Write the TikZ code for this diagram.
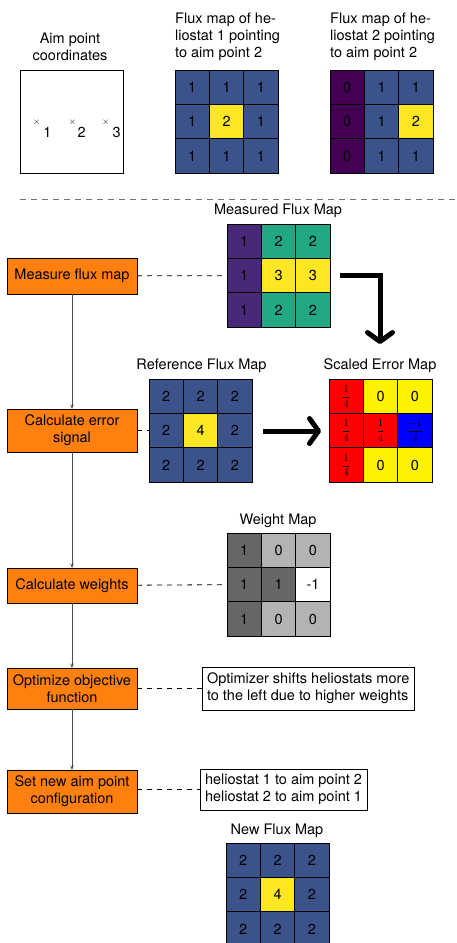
\documentclass[tikz,border=0pt]{standalone}
\usepackage{fontspec}
\setmainfont{TeX Gyre Heros}
\usetikzlibrary{arrows.meta}

% viridis-like cell colours
\definecolor{vblue}{HTML}{3B528B}
\definecolor{vyellow}{HTML}{FDE725}
\definecolor{vpurple}{HTML}{440154}
\definecolor{vviolet}{HTML}{482878}
\definecolor{vteal}{HTML}{22A884}
\definecolor{stepfill}{RGB}{255,128,14}
\definecolor{wdark}{HTML}{666666}
\definecolor{wlight}{HTML}{B3B3B3}

\newcommand{\mainsize}{\fontsize{14.5}{17.2}\selectfont}
\newcommand{\fr}[1]{{\fontsize{10.5}{12}\selectfont$\displaystyle\frac{#1}{4}$}}

% 3x3 flux map: name, left, top, list of colour/value
\newcommand{\hgrid}[4]{%
  \foreach \cc/\cv [count=\k from 0] in {#4} {%
    \pgfmathtruncatemacro\rr{div(\k,3)}%
    \pgfmathtruncatemacro\qq{mod(\k,3)}%
    \node[cell, fill=\cc, anchor=north west] (#1-\rr-\qq)
      at ({#2+\qq*34.4},{#3+\rr*34.4}) {\cv};
  }}

\begin{document}
\begin{tikzpicture}[x=1pt, y=-1pt,
  every node/.style={font=\mainsize},
  cell/.style={draw=black, line width=0.9pt, minimum size=34.4pt,
    inner sep=0pt, outer sep=0pt},
  stepbox/.style={draw=black, fill=stepfill, line width=0.9pt,
    minimum width=130pt, align=center, inner sep=3pt, outer sep=0pt},
  notebox/.style={draw=black, fill=white, line width=0.9pt, align=left,
    inner sep=5pt, outer sep=0pt, anchor=west},
  maptitle/.style={inner sep=0pt},
  flowarrow/.style={draw=black!70, line width=0.8pt,
    -{Stealth[length=4.5pt,width=3.5pt]}},
  dashline/.style={draw=black, line width=0.8pt, dash pattern=on 5pt off 5pt},
  sepline/.style={draw=black!55, line width=0.8pt, dash pattern=on 6pt off 5pt},
  bigarrow/.style={draw=black, line width=5pt,
    -{Straight Barb[length=9pt,width=25pt,round]}}]

\useasboundingbox (0,0) rectangle (456,943);

% ---------- top row: aim points and single-heliostat flux maps ----------
\node[maptitle, align=center] (aimtitle) at (70,47) {Aim point\\coordinates};
\node[draw=black, line width=0.9pt, minimum size=103pt, inner sep=0pt,
  outer sep=0pt, anchor=north west] (aimbox) at (20,70) {};
\foreach \n/\xm/\xd in {1/36.8/47.5, 2/72.5/81.7, 3/105.8/116.7} {
  \node[inner sep=0pt, font=\fontsize{9}{10}\selectfont] (mark\n) at (\xm,122) {$\times$};
  \node[inner sep=0pt] (lab\n) at (\xd,132) {\n};
}

\node[maptitle, align=left, anchor=west] (f1title) at (175,37)
  {Flux map of he-\\liostat 1 pointing\\to aim point 2};
\hgrid{fa}{175}{70}{vblue/1, vblue/1, vblue/1,
                    vblue/1, vyellow/2, vblue/1,
                    vblue/1, vblue/1, vblue/1}

\node[maptitle, align=left, anchor=west] (f2title) at (330,37)
  {Flux map of he-\\liostat 2 pointing\\to aim point 2};
\hgrid{fb}{330}{70}{vpurple/0, vblue/1, vblue/1,
                    vpurple/0, vblue/1, vyellow/2,
                    vpurple/0, vblue/1, vblue/1}

\coordinate (sepL) at (20,199);
\coordinate (sepR) at (456,199);
\draw[sepline] (sepL) -- (sepR);

% ---------- process steps ----------
\node[stepbox, minimum height=36pt] (s1) at (72,276) {Measure flux map};
\node[stepbox, minimum height=43pt] (s2) at (72,430.5) {Calculate error\\signal};
\node[stepbox, minimum height=35pt] (s3) at (72,585.5) {Calculate weights};
\node[stepbox, minimum height=41pt] (s4) at (72,688.5) {Optimize objective\\function};
\node[stepbox, minimum height=43pt] (s5) at (72,791.5) {Set new aim point\\configuration};

\draw[flowarrow] (s1) -- (s2);
\draw[flowarrow] (s2) -- (s3);
\draw[flowarrow] (s3) -- (s4);
\draw[flowarrow] (s4) -- (s5);

% ---------- measured flux map ----------
\node[maptitle] (mtitle) at (278,211) {Measured Flux Map};
\hgrid{meas}{227}{224}{vviolet/1, vteal/2, vteal/2,
                       vviolet/1, vyellow/3, vyellow/3,
                       vviolet/1, vteal/2, vteal/2}
\draw[dashline] (s1) -- (meas-1-0);

% ---------- reference and scaled error maps ----------
\node[maptitle] (rtitle) at (201.5,366) {Reference Flux Map};
\hgrid{ref}{149}{379}{vblue/2, vblue/2, vblue/2,
                      vblue/2, vyellow/4, vblue/2,
                      vblue/2, vblue/2, vblue/2}
\draw[dashline] (s2) -- (ref-1-0);

\node[maptitle] (etitle) at (380,366) {Scaled Error Map};
\hgrid{err}{329}{379}{red/\fr{1}, yellow/0, yellow/0,
                      red/\fr{1}, red/\fr{1}, blue/\fr{-1},
                      red/\fr{1}, yellow/0, yellow/0}

\coordinate (a1s) at (340,275.6);
\coordinate (a1e) at (380,344);
\draw[bigarrow] (a1s) -| (a1e);
\coordinate (a2s) at (263,431);
\coordinate (a2e) at (321,431);
\draw[bigarrow] (a2s) -- (a2e);

% ---------- weight map ----------
\node[maptitle] (wtitle) at (278,521) {Weight Map};
\hgrid{wt}{227}{533}{wdark/1, wlight/0, wlight/0,
                     wdark/1, wdark/1, white/-1,
                     wdark/1, wlight/0, wlight/0}
\draw[dashline] (s3) -- (wt-1-0);

% ---------- notes ----------
\node[notebox, minimum height=43pt] (n1) at (202,688.5)
  {Optimizer shifts heliostats more\\to the left due to higher weights};
\draw[dashline] (s4) -- (n1);
\node[notebox, minimum height=39pt] (n2) at (200,789.5)
  {heliostat 1 to aim point 2\\heliostat 2 to aim point 1};
\draw[dashline] (s5.east |- n2.west) -- (n2);

% ---------- new flux map ----------
\node[maptitle] (ntitle) at (277,831) {New Flux Map};
\hgrid{new}{226}{843}{vblue/2, vblue/2, vblue/2,
                      vblue/2, vyellow/4, vblue/2,
                      vblue/2, vblue/2, vblue/2}
\end{tikzpicture}
\end{document}
